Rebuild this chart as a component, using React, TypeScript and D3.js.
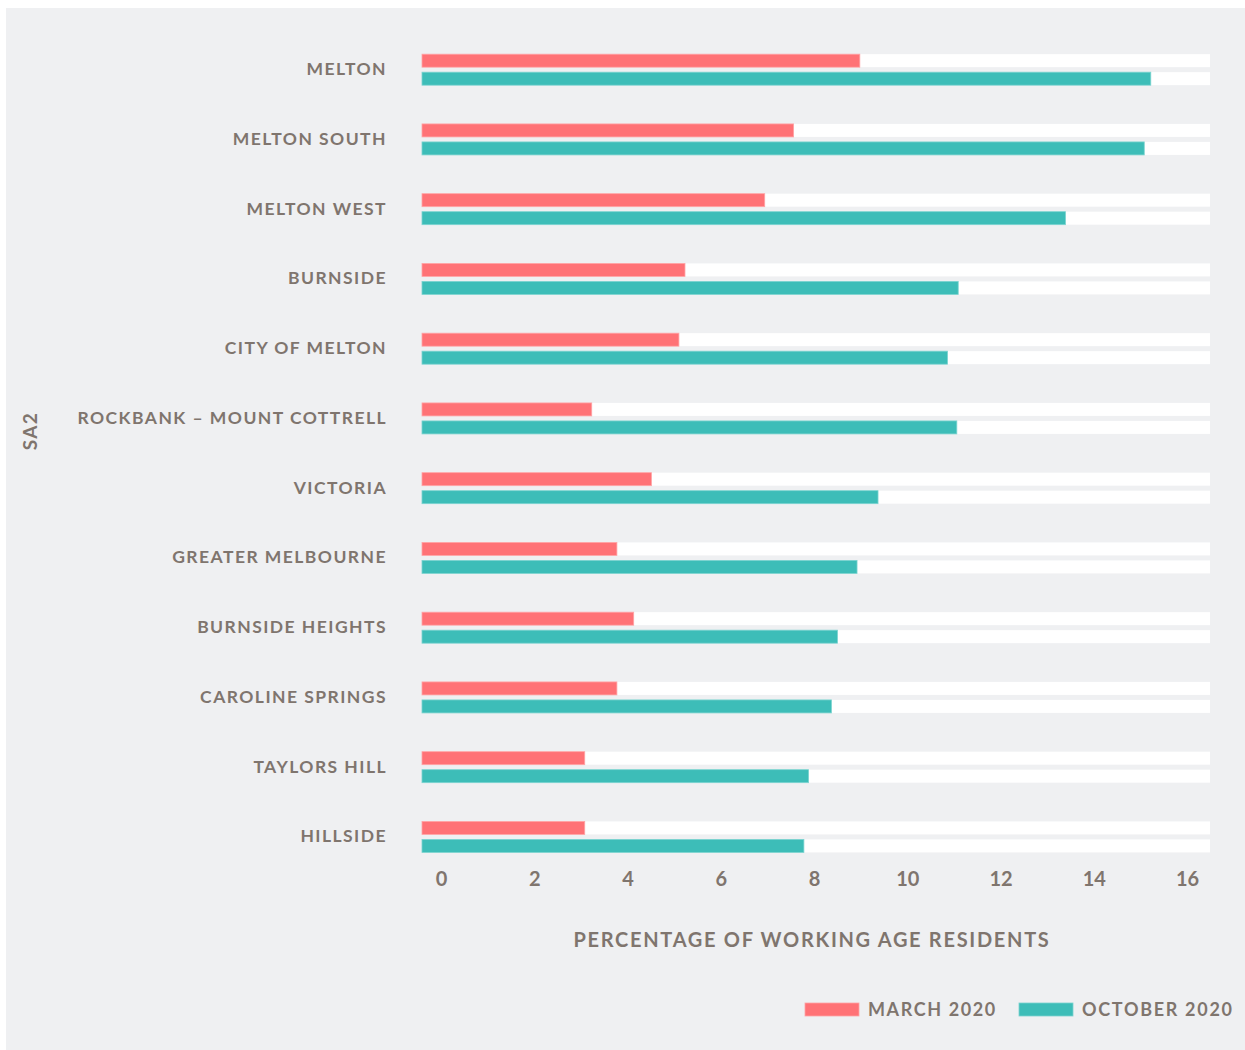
import React from "react";
import * as d3 from "d3";

const categories = [
  "MELTON",
  "MELTON SOUTH",
  "MELTON WEST",
  "BURNSIDE",
  "CITY OF MELTON",
  "ROCKBANK – MOUNT COTTRELL",
  "VICTORIA",
  "GREATER MELBOURNE",
  "BURNSIDE HEIGHTS",
  "CAROLINE SPRINGS",
  "TAYLORS HILL",
  "HILLSIDE",
];
const march2020 = [9.39, 7.97, 7.35, 5.64, 5.51, 3.64, 4.92, 4.18, 4.54, 4.18, 3.49, 3.49];
const october2020 = [15.63, 15.49, 13.8, 11.5, 11.27, 11.47, 9.78, 9.33, 8.91, 8.78, 8.29, 8.19];
const tickValues = [0, 2, 4, 6, 8, 10, 12, 14, 16];
const seriesNames = ["MARCH 2020", "OCTOBER 2020"];
const axisMax = 16.9;

const W = 1245;
const H = 1050;
const TEXT = "#7f756e";
const FONT = "Lato, 'Noto Sans', sans-serif";
const RED = "#ff7276";
const RED_EDGE = "#ffa3a5";
const TEAL = "#3dbdb8";
const TEAL_EDGE = "#7ad3cf";

export default function App() {
  const x = d3.scaleLinear().domain([0, axisMax]).range([422, 1210]);
  const y = d3.scaleBand<string>().domain(categories).range([34.8, 34.8 + 12 * 69.75]).padding(0);
  const bh = 13;
  const gap = 5;
  const tickOffset = 19.5;

  return (
    <svg width={W} height={H} style={{ position: "absolute", left: 0, top: 0 }} fontFamily={FONT}>
      <rect x={6} y={8} width={W - 6} height={H - 8} fill="#eff0f2" />
      {categories.map((c, i) => {
        const cy = (y(c) ?? 0) + y.bandwidth() / 2;
        const y1 = cy - gap / 2 - bh;
        const y2 = cy + gap / 2;
        return (
          <g key={c}>
            <text x={387} y={cy + 5.5} textAnchor="end" fontSize={17.5} fontWeight={700} fill={TEXT} letterSpacing={1.45}>
              {c}
            </text>
            <rect x={x(0)} y={y1} width={x(axisMax) - x(0)} height={bh} fill="#ffffff" />
            <rect x={x(0)} y={y2} width={x(axisMax) - x(0)} height={bh} fill="#ffffff" />
            <rect x={x(0)} y={y1} width={x(march2020[i]) - x(0)} height={bh} fill={RED} stroke={RED_EDGE} strokeWidth={0.8} />
            <rect x={x(0)} y={y2} width={x(october2020[i]) - x(0)} height={bh} fill={TEAL} stroke={TEAL_EDGE} strokeWidth={0.8} />
          </g>
        );
      })}
      {tickValues.map((t) => (
        <text key={t} x={x(t) + tickOffset} y={886} textAnchor="middle" fontSize={20} fontWeight={700} fill={TEXT}>
          {t}
        </text>
      ))}
      <text x={812} y={947} textAnchor="middle" fontSize={20} fontWeight={700} fill={TEXT} letterSpacing={1.7}>
        PERCENTAGE OF WORKING AGE RESIDENTS
      </text>
      <text transform="translate(37,431) rotate(-90)" textAnchor="middle" fontSize={19} fontWeight={700} fill={TEXT} letterSpacing={1.4}>
        SA2
      </text>
      <g>
        <rect x={805} y={1003} width={54} height={13} fill={RED} stroke={RED_EDGE} strokeWidth={0.8} />
        <text x={868} y={1016} fontSize={18} fontWeight={700} fill={TEXT} letterSpacing={1.6}>
          {seriesNames[0]}
        </text>
        <rect x={1019} y={1003} width={54} height={13} fill={TEAL} stroke={TEAL_EDGE} strokeWidth={0.8} />
        <text x={1082} y={1016} fontSize={18} fontWeight={700} fill={TEXT} letterSpacing={1.7}>
          {seriesNames[1]}
        </text>
      </g>
    </svg>
  );
}
